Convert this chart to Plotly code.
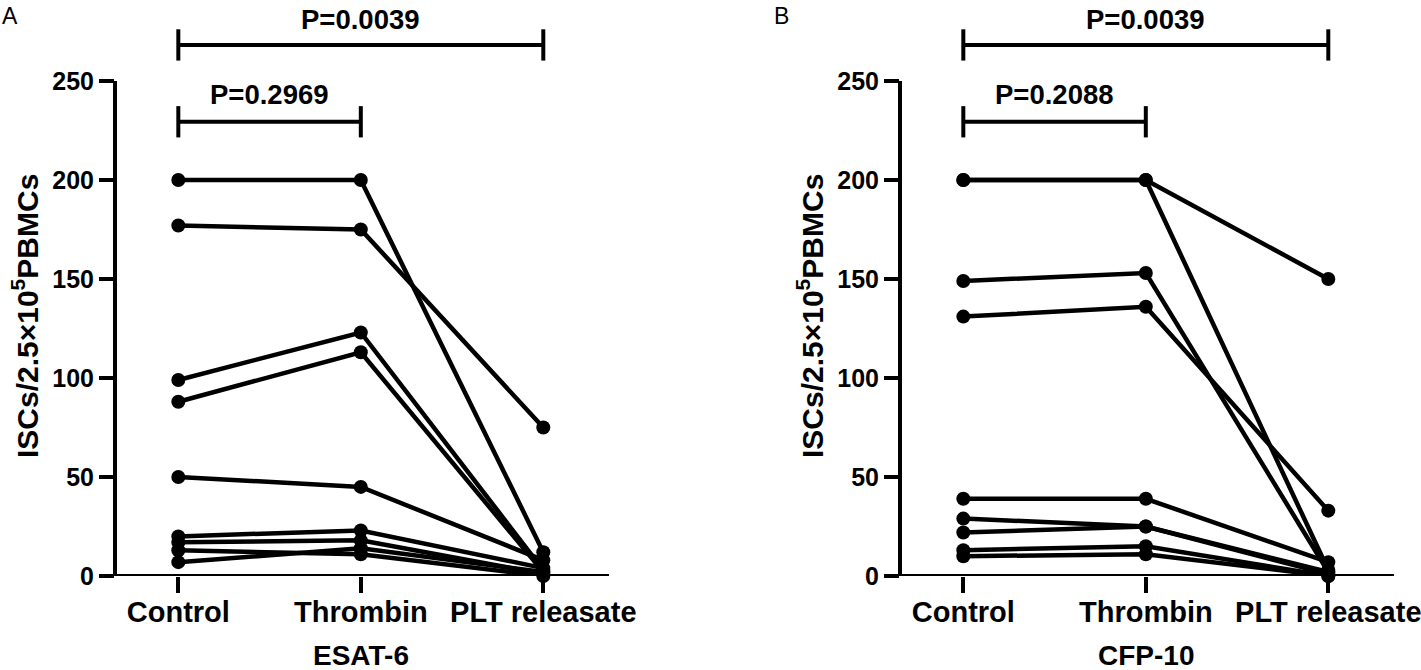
import plotly.graph_objects as go

categories = ["Control", "Thrombin", "PLT releasate"]

# ESAT-6 panel: each inner list = one donor [Control, Thrombin, PLT releasate]
esat6_values = [
    [200, 200, 12],
    [177, 175, 75],
    [99, 123, 3],
    [88, 113, 2],
    [50, 45, 8],
    [20, 23, 4],
    [17, 18, 1],
    [13, 11, 0],
    [7, 14, 2],
]

# CFP-10 panel
cfp10_values = [
    [200, 200, 3],
    [200, 200, 150],
    [149, 153, 2],
    [131, 136, 33],
    [39, 39, 7],
    [29, 25, 2],
    [22, 25, 1],
    [13, 15, 0],
    [10, 11, 0],
]

y_tickvals = [0, 50, 100, 150, 200, 250]
panel_titles = ["ESAT-6", "CFP-10"]
panel_letters = ["A", "B"]
p_long = ["P=0.0039", "P=0.0039"]
p_short = ["P=0.2969", "P=0.2088"]

W, H = 1421, 670
FONT = "Liberation Sans"

fig = go.Figure()

panels = [esat6_values, cfp10_values]
xaxes = ["x", "x2"]
yaxes = ["y", "y2"]
for vals, xa, ya in zip(panels, xaxes, yaxes):
    for row in vals:
        fig.add_trace(go.Scatter(
            x=categories, y=row, mode="lines+markers",
            line=dict(color="black", width=4.5),
            marker=dict(color="black", size=14),
            xaxis=xa, yaxis=ya, showlegend=False, cliponaxis=False,
            hoverinfo="skip",
        ))

# layout geometry (pixels -> paper)
ybot_px = 576
y_dom = [(H - ybot_px) / H, 1.0]
y_range = [0, 290.9]
x_doms = [[115 / W, 609 / W], [900 / W, 1394 / W]]
x_range = [-0.347, 2.36]

common_x = dict(
    type="category", range=x_range, showline=False, zeroline=False, showgrid=False,
    ticks="outside", ticklen=16, tickwidth=4, tickcolor="black",
    tickfont=dict(family=FONT, size=29, color="black", weight="bold"),
    ticklabelstandoff=-6,
    automargin=False, fixedrange=True,
)
common_y = dict(
    range=y_range, domain=y_dom, showline=False, zeroline=False, showgrid=False,
    tickvals=y_tickvals, ticks="outside", ticklen=15, tickwidth=4, tickcolor="black",
    tickfont=dict(family=FONT, size=25, color="black", weight="bold"),
    automargin=False, fixedrange=True,
)

fig.update_layout(
    width=W, height=H,
    margin=dict(l=0, r=0, t=0, b=0),
    paper_bgcolor="white", plot_bgcolor="white",
    xaxis=dict(domain=x_doms[0], anchor="y", **common_x),
    yaxis=dict(anchor="x", **common_y),
    xaxis2=dict(domain=x_doms[1], anchor="y2", **common_x),
    yaxis2=dict(anchor="x2", **common_y),
    showlegend=False,
)

shapes = []
annotations = []
ytitle_x_px = [25, 810]
letter_x_px = [9.5, 781]
for i, (xa, ya) in enumerate(zip(xaxes, yaxes)):
    line = dict(color="black", width=4)
    # axis lines
    shapes.append(dict(type="line", xref=f"{xa} domain", yref=ya, x0=0, x1=0,
                       y0=0, y1=max(y_tickvals), line=line, layer="above"))
    shapes.append(dict(type="line", xref=f"{xa} domain", yref=ya, x0=0, x1=1,
                       y0=0, y1=0, line=line, layer="above"))
    # significance brackets
    for (c0, c1, yb, txt, ty) in [
        (categories[0], categories[2], 268.2, p_long[i], 281.3),
        (categories[0], categories[1], 229.4, p_short[i], 243.4),
    ]:
        shapes.append(dict(type="line", xref=xa, yref=ya, x0=c0, x1=c1, y0=yb, y1=yb, line=line))
        for c in (c0, c1):
            shapes.append(dict(type="line", xref=xa, yref=ya, x0=c, x1=c,
                               y0=yb - 7.9, y1=yb + 7.9, line=line))
        annotations.append(dict(
            xref=xa, yref=ya, x=(categories.index(c0) + categories.index(c1)) / 2, y=ty,
            text=txt, showarrow=False, xanchor="center", yanchor="middle",
            font=dict(family=FONT, size=27.5, color="black", weight="bold"),
        ))
    # x-axis title
    annotations.append(dict(
        xref=xa, yref="paper", x=1, y=(H - 655) / H, text=panel_titles[i],
        showarrow=False, xanchor="center", yanchor="middle",
        font=dict(family=FONT, size=28, color="black", weight="bold"),
    ))
    # y-axis title
    annotations.append(dict(
        xref="paper", yref="paper", x=ytitle_x_px[i] / W, y=(H - 316) / H,
        text="ISCs/2.5×10<sup>5</sup>PBMCs", textangle=-90, showarrow=False,
        xanchor="center", yanchor="middle",
        font=dict(family=FONT, size=30, color="black", weight="bold"),
    ))
    # panel letter
    annotations.append(dict(
        xref="paper", yref="paper", x=letter_x_px[i] / W, y=(H - 16.5) / H,
        text=panel_letters[i], showarrow=False, xanchor="center", yanchor="middle",
        font=dict(family=FONT, size=23, color="black"),
    ))

fig.update_layout(shapes=shapes, annotations=annotations)
fig.write_html(
    "out.html",
    config={"displayModeBar": False},
    post_script="document.body.style.margin='0';document.body.style.overflow='hidden';",
)
